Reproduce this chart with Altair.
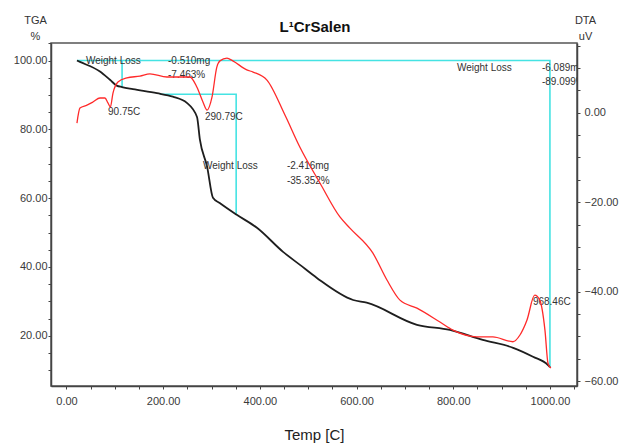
import altair as alt
import pandas as pd

# TGA curve (weight %, left axis)
tga_T = [21.7, 27.9, 69.3, 90, 104, 115, 137.5, 187, 220, 249, 270, 276, 291, 303, 317, 353, 394,
         448, 483, 518, 593, 621, 725, 793, 861, 924, 965, 996, 1000]
tga_v = [100, 99.6, 96.8, 94.4, 92.7, 92.3, 91.7, 90.5, 89.5, 87.7, 83.6, 77.0, 69.1, 60.1, 58.6,
         55.1, 51.4, 44.4, 40.6, 36.8, 30.4, 29.6, 23.2, 21.7, 18.8, 16.5, 13.9, 11.5, 10.9]

# DTA curve (uV, right axis)
dta_T = [21.7, 27.9, 42.4, 54.8, 69.3, 79.6, 85.8, 90.75, 96.2, 106.5, 125, 152, 172.7, 207.8,
         234.6, 255.3, 269.9, 282.3, 290.8, 301, 311, 317.4, 332, 344, 373, 386, 414.7, 451.9,
         482.9, 524.3, 565.6, 586.3, 633.9, 662.9, 689.8, 725, 772.5, 799.4, 849, 882, 923.5,
         938, 952.4, 968.5, 979, 989.7, 996, 1002]
dta_v = [-2.3, 1.05, 1.7, 2.4, 3.3, 3.3, 2.2, 1.3, 4.4, 6.9, 7.8, 8.2, 8.7, 8.0, 8.0, 8.0, 5.7,
         2.4, 0.6, 3.5, 10.2, 11.6, 12.2, 11.6, 9.6, 9.1, 7.3, -0.5, -7.7, -15.7, -23.3, -25.8,
         -31.4, -37.4, -41.9, -43.7, -46.8, -48.6, -50.1, -50.1, -51.2, -49.7, -46.4, -40.8,
         -41.9, -48.6, -56.0, -57.1]

# Weight-loss step markers (cyan)
step_group = ["a", "a", "a", "b", "b", "c", "c", "c"]
step_T = [21.7, 1000, 1000, 115, 115, 193, 351, 351]
step_v = [100, 100, 10.9, 100, 92.3, 90.2, 90.2, 55.1]

# Annotations (anchored in TGA units)
ann_text = ["Weight Loss", "-0.510mg", "-7.463%", "90.75C", "290.79C", "Weight Loss",
            "-2.416mg", "-35.352%", "Weight Loss", "-6.089mg", "-89.099%", "968.46C"]
ann_T = [40.3, 210, 210, 86, 286.5, 282.3, 456, 456, 807.6, 983.5, 983.5, 964.8]
ann_v = [100, 100, 95.85, 85.1, 83.6, 69.4, 69.4, 65.0, 97.9, 97.9, 93.8, 29.8]

chart_title = ["L\u00b9CrSalen"]

tga_df = pd.DataFrame({"T": tga_T, "v": tga_v})
dta_df = pd.DataFrame({"T": dta_T, "v": dta_v})
step_df = pd.DataFrame({"T": step_T, "v": step_v, "g": step_group, "o": list(range(len(step_T)))})
ann_df = pd.DataFrame({"T": ann_T, "v": ann_v, "t": ann_text})
title_df = pd.DataFrame({"t": chart_title})

FONT = "Liberation Sans"
LBL = "#3a3a3a"
W, H = 526, 343

x_enc = alt.X(
    "T:Q",
    scale=alt.Scale(domain=[-32, 1056], nice=False, zero=False),
    axis=alt.Axis(
        title="Temp  [C]",
        values=list(range(0, 1051, 50)),
        labelExpr="datum.value % 200 === 0 ? format(datum.value, '.2f') : ''",
        grid=False, tickSize=3, labelPadding=6, titlePadding=21,
        titleFontSize=15, titleFontWeight="normal", titleColor="#222",
        labelFontSize=11, labelColor=LBL, domainColor="#444", tickColor="#444",
        domainWidth=1.5, labelFont=FONT, titleFont=FONT,
    ),
)

y_left = alt.Y(
    "v:Q",
    scale=alt.Scale(domain=[5.4, 105.1], nice=False, zero=False),
    axis=alt.Axis(
        orient="left",
        title=["TGA", "%"], titleAngle=0, titleAlign="center", titleBaseline="bottom",
        titleX=-16, titleY=-18, titleLineHeight=16, titleFontSize=11,
        titleFontWeight="normal", titleColor="#333",
        values=list(range(10, 106, 5)),
        labelExpr="datum.value % 20 === 0 ? format(datum.value, '.2f') : ''",
        grid=False, tickSize=3, labelPadding=1,
        labelFontSize=11, labelColor=LBL, domainColor="#444", tickColor="#444",
        domainWidth=1.5, labelFont=FONT, titleFont=FONT,
    ),
)

y_right = alt.Y(
    "v:Q",
    scale=alt.Scale(domain=[-61.1, 15.6], nice=False, zero=False),
    axis=alt.Axis(
        orient="right",
        title=["DTA", "uV"], titleAngle=0, titleAlign="center", titleBaseline="bottom",
        titleX=8, titleY=-18, titleLineHeight=16, titleFontSize=11,
        titleFontWeight="normal", titleColor="#333",
        values=list(range(-60, 16, 5)),
        labelExpr="datum.value % 20 === 0 ? format(datum.value, '.2f') : ''",
        grid=False, tickSize=3, labelPadding=4,
        labelFontSize=11, labelColor=LBL, domainColor="#444", tickColor="#444",
        domainWidth=1.5, labelFont=FONT, titleFont=FONT,
    ),
)

steps = alt.Chart(step_df).mark_line(color="#45e3e3", strokeWidth=1.6).encode(
    x=x_enc, y=y_left, detail="g:N", order="o:Q"
)
tga = alt.Chart(tga_df).mark_line(color="#1e1e1e", strokeWidth=1.8, interpolate="monotone").encode(
    x=x_enc, y=y_left
)
ann = alt.Chart(ann_df).mark_text(
    align="left", baseline="middle", fontSize=10, font=FONT, color="#333", clip=True
).encode(x=x_enc, y=y_left, text="t:N")

title_mark = alt.Chart(title_df).mark_text(
    align="center", baseline="middle", fontSize=15, fontWeight="bold", font=FONT, color="#111"
).encode(x=alt.value(W / 2 + 1), y=alt.value(-16), text="t:N")

dta = alt.Chart(dta_df).mark_line(color="#ff2a2a", strokeWidth=1.3, interpolate="monotone").encode(
    x=x_enc, y=y_right
)

left_layer = alt.layer(steps, tga, ann, title_mark)

chart = (
    alt.layer(left_layer, dta)
    .resolve_scale(y="independent")
    .properties(
        width=W, height=H,
        autosize=alt.AutoSizeParams(type="none"),
        padding={"left": 51, "top": 43, "right": 46, "bottom": 57},
        background="white",
    )
    .configure_view(stroke="#555", strokeWidth=1.5)
)

chart.save("out.html", embed_options={"renderer": "svg", "actions": False})
